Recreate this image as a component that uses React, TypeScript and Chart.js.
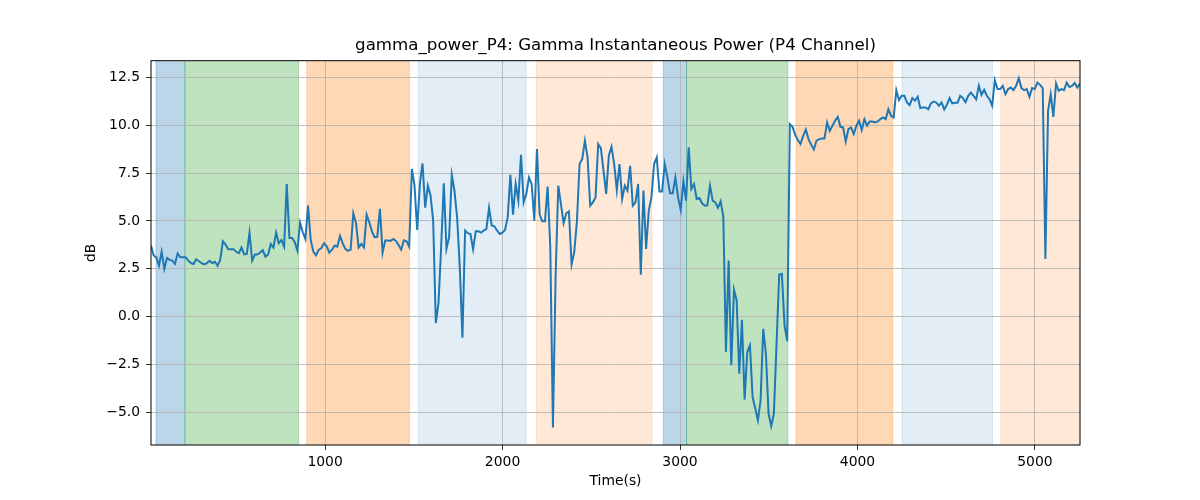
import { useEffect, useRef } from 'react';
import { Chart, registerables } from 'chart.js';

Chart.register(...registerables);

// sampling grid of the trace (seconds)
const T_START = 19;
const T_STEP = 15;

// gamma power, dB
const GAMMA_DB = [
  3.72, 3.2, 3.1, 2.67, 3.4, 2.5, 3.07, 2.97, 2.93, 2.76,
  3.3, 3.1, 3.1, 3.1, 2.93, 2.8, 2.75, 3.0, 2.9, 2.8,
  2.73, 2.8, 2.92, 2.8, 2.87, 2.66, 2.97, 3.94, 3.77, 3.52,
  3.52, 3.52, 3.39, 3.32, 3.61, 3.26, 3.28, 4.39, 2.93, 3.25,
  3.25, 3.35, 3.47, 3.14, 3.25, 3.8, 3.61, 4.39, 3.84, 4.0,
  3.66, 6.93, 4.11, 4.11, 3.89, 3.45, 4.91, 4.41, 4.05, 5.8,
  4.0, 3.4, 3.21, 3.49, 3.59, 3.84, 3.68, 3.35, 3.5, 3.72,
  3.66, 4.22, 3.84, 3.54, 3.44, 3.5, 5.4, 4.9, 3.61, 3.8,
  3.61, 5.33, 4.93, 4.46, 4.15, 4.17, 5.63, 3.35, 3.98, 3.98,
  3.96, 4.06, 3.96, 3.75, 3.5, 3.99, 3.94, 3.66, 7.71, 6.84,
  4.53, 6.93, 8.0, 5.69, 6.84, 6.34, 5.02, -0.33, 0.71, 3.63,
  6.96, 3.54, 4.15, 7.4, 6.58, 5.19, 2.59, -1.09, 4.5, 4.36,
  4.32, 3.52, 4.46, 4.46, 4.39, 4.5, 4.58, 5.68, 4.76, 4.72,
  4.5, 4.32, 4.39, 4.53, 5.19, 7.41, 5.33, 6.93, 6.06, 8.45,
  5.97, 6.41, 7.27, 6.93, 5.02, 8.75, 5.33, 4.98, 4.98, 6.79,
  3.63, -5.78, 2.07, 6.84, 5.89, 4.88, 5.4, 5.5, 2.73, 3.37,
  4.98, 7.97, 8.23, 9.18, 8.32, 5.8, 5.97, 6.23, 9.01, 8.8,
  7.62, 6.41, 8.4, 8.87, 7.97, 6.61, 7.97, 6.15, 6.84, 6.58,
  7.88, 5.8, 5.97, 6.93, 2.2, 6.58, 3.54, 5.54, 6.23, 7.97,
  8.32, 6.53, 6.53, 7.97, 7.27, 6.44, 6.44, 7.27, 6.23, 5.57,
  7.07, 6.06, 8.84, 6.67, 6.93, 6.15, 6.2, 5.92, 5.8, 5.8,
  6.84, 6.06, 5.97, 5.68, 6.02, 5.23, -1.84, 2.93, -2.53, 1.41,
  0.85, -2.97, -0.16, -4.32, -1.84, -1.49, -4.18, -4.79, -5.4, -4.36,
  -0.63, -1.93, -5.05, -5.71, -5.05, -1.41, 2.2, 2.24, -0.45, -1.27,
  10.05, 9.91, 9.5, 9.22, 9.01, 9.44, 9.77, 9.27, 8.98, 8.73,
  9.18, 9.27, 9.3, 9.3, 10.14, 9.7, 9.97, 10.23, 10.43, 9.91,
  9.88, 9.15, 9.79, 9.88, 9.53, 9.97, 10.23, 9.74, 10.31, 9.97,
  10.19, 10.19, 10.14, 10.19, 10.31, 10.4, 10.31, 10.83, 10.49, 10.4,
  11.82, 11.3, 11.53, 11.53, 11.18, 11.04, 11.41, 11.27, 11.48, 10.89,
  10.92, 10.92, 10.83, 11.13, 11.23, 11.18, 11.01, 11.18, 10.82, 11.06,
  11.41, 11.13, 11.16, 11.16, 11.53, 11.41, 11.2, 11.53, 11.7, 11.53,
  11.34, 12.05, 11.58, 11.84, 11.53, 11.35, 11.01, 12.34, 11.88, 11.88,
  12.05, 11.61, 11.88, 11.96, 11.82, 12.05, 12.45, 11.93, 11.82, 11.88,
  11.48, 11.93, 11.88, 12.22, 12.1, 11.93, 3.02, 10.75, 11.61, 10.43,
  12.17, 11.79, 11.88, 11.82, 12.22, 11.99, 12.05, 12.2, 11.96, 12.17,
];

// shaded stage bands (seconds)
const BAND_START = [47, 210, 897, 1525, 2191, 2906, 3037, 3654, 4251, 4808];
const BAND_END = [210, 850, 1475, 2133, 2842, 3037, 3608, 4199, 4761, 5400];
const BAND_COLOR = [
  'rgba(31,119,180,0.3)',
  'rgba(44,160,44,0.3)',
  'rgba(255,127,14,0.3)',
  'rgba(31,119,180,0.13)',
  'rgba(255,127,14,0.17)',
  'rgba(31,119,180,0.3)',
  'rgba(44,160,44,0.3)',
  'rgba(255,127,14,0.3)',
  'rgba(31,119,180,0.13)',
  'rgba(255,127,14,0.17)',
];

const X_TICKS = [1000, 2000, 3000, 4000, 5000];
const Y_TICKS = [-5, -2.5, 0, 2.5, 5, 7.5, 10, 12.5];
const Y_MIN = -6.69;
const Y_MAX = 13.36;

const TITLE = 'gamma_power_P4: Gamma Instantaneous Power (P4 Channel)';
const FONT = 'DejaVu Sans';

// bands under the grid, frame and title (centred on the plot area, like matplotlib)
const bandsPlugin = {
  id: 'bands',
  beforeDraw(chart: any) {
    const { ctx, chartArea, scales } = chart;
    const xs = scales.x;
    ctx.save();
    ctx.beginPath();
    ctx.rect(chartArea.left, chartArea.top, chartArea.right - chartArea.left, chartArea.bottom - chartArea.top);
    ctx.clip();
    BAND_START.forEach((s, i) => {
      const x0 = xs.getPixelForValue(s);
      const x1 = xs.getPixelForValue(BAND_END[i]);
      ctx.fillStyle = BAND_COLOR[i];
      ctx.fillRect(x0, chartArea.top, x1 - x0, chartArea.bottom - chartArea.top);
      ctx.strokeStyle = BAND_COLOR[i];
      ctx.lineWidth = 1;
      ctx.beginPath();
      ctx.moveTo(x0, chartArea.top);
      ctx.lineTo(x0, chartArea.bottom);
      ctx.moveTo(x1, chartArea.top);
      ctx.lineTo(x1, chartArea.bottom);
      ctx.stroke();
    });
    ctx.restore();
  },
  afterDraw(chart: any) {
    const { ctx, chartArea } = chart;
    ctx.save();
    ctx.strokeStyle = '#000';
    ctx.lineWidth = 1;
    ctx.strokeRect(chartArea.left, chartArea.top, chartArea.right - chartArea.left, chartArea.bottom - chartArea.top);
    ctx.fillStyle = '#000';
    ctx.font = `16.67px "${FONT}"`;
    ctx.textAlign = 'center';
    ctx.textBaseline = 'middle';
    ctx.fillText(TITLE, (chartArea.left + chartArea.right) / 2, 46);
    ctx.restore();
  },
};

const fmt = (v: number, digits: number) => v.toFixed(digits).replace('-', '\u2212');

const App = () => {
  const canvasRef = useRef<HTMLCanvasElement | null>(null);

  useEffect(() => {
    if (!canvasRef.current) return;
    const points = GAMMA_DB.map((v, i) => ({ x: T_START + T_STEP * i, y: v }));
    const chart = new Chart(canvasRef.current, {
      type: 'line',
      data: {
        datasets: [
          {
            data: points,
            borderColor: '#1f77b4',
            borderWidth: 2,
            pointRadius: 0,
            tension: 0,
            fill: false,
          },
        ],
      },
      options: {
        responsive: false,
        animation: false,
        layout: { padding: { left: 0, right: 120, top: 60.7, bottom: 0 } },
        plugins: {
          legend: { display: false },
          tooltip: { enabled: false },
          title: { display: false },
        },
        scales: {
          x: {
            type: 'linear',
            min: T_START,
            max: T_START + T_STEP * (GAMMA_DB.length - 1),
            afterFit: (scale: any) => {
              scale.height = 55;
            },
            afterBuildTicks: (scale: any) => {
              scale.ticks = X_TICKS.map((v) => ({ value: v }));
            },
            grid: { color: '#b0b0b0', lineWidth: 0.8, tickColor: '#000', tickLength: 5 },
            border: { display: false },
            ticks: {
              color: '#000',
              padding: 4,
              maxRotation: 0,
              font: { family: FONT, size: 13.9 },
              callback: (v: any) => fmt(Number(v), 0),
            },
            title: {
              display: true,
              text: 'Time(s)',
              color: '#000',
              font: { family: FONT, size: 13.9 },
              padding: { top: 0, bottom: 10.7 },
            },
          },
          y: {
            type: 'linear',
            min: Y_MIN,
            max: Y_MAX,
            afterFit: (scale: any) => {
              scale.width = 151;
            },
            afterBuildTicks: (scale: any) => {
              scale.ticks = Y_TICKS.map((v) => ({ value: v }));
            },
            grid: { color: '#b0b0b0', lineWidth: 0.8, tickColor: '#000', tickLength: 5 },
            border: { display: false },
            ticks: {
              color: '#000',
              padding: 6,
              font: { family: FONT, size: 13.9 },
              callback: (v: any) => fmt(Number(v), 1),
            },
            title: {
              display: true,
              text: 'dB',
              color: '#000',
              font: { family: FONT, size: 13.9 },
              padding: { top: 83.4, bottom: 0 },
            },
          },
        },
      },
      plugins: [bandsPlugin],
    } as any);

    return () => {
      chart.destroy();
    };
  }, []);

  return (
    <div style={{ position: 'absolute', left: 0, top: 0, width: 1200, height: 500, background: '#fff' }}>
      <canvas ref={canvasRef} width={1200} height={500} style={{ width: 1200, height: 500 }}></canvas>
    </div>
  );
};

export default App;
